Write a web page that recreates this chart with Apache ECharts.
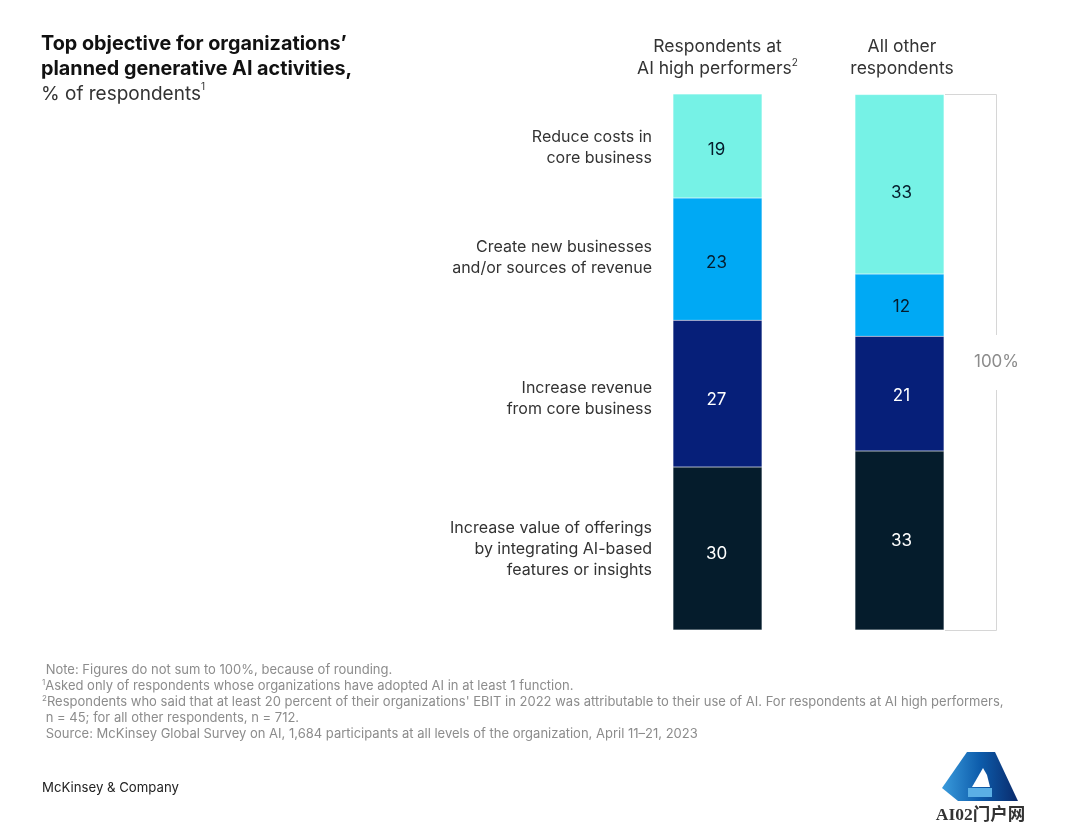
<!DOCTYPE html>
<html>
<head>
<meta charset="utf-8">
<title>Top objective for planned generative AI activities</title>
<script src="https://cdn.jsdelivr.net/npm/echarts@6/dist/echarts.min.js"></script>
<style>
html,body{margin:0;padding:0;background:#fff}
#chart{width:1080px;height:824px}
</style>
</head>
<body>
<div id="chart"></div>
<script>
var FONT='Inter, "Liberation Sans", Arial, sans-serif';

// columns
var groups=['{t|Respondents at}\n{t|AI high performers}{sup|2}','{r|All other}\n{r|respondents}'];
// segments, bottom to top. values are measured off the bar heights, labels round them
var offerings=[30.4,33.4];
var revenue=[27.4,21.4];
var newBiz=[22.8,11.6];
var costs=[19.4,33.49];
var segNames=[
    'Increase value of offerings\nby integrating AI-based\nfeatures or insights',
    'Increase revenue\nfrom core business',
    'Create new businesses\nand/or sources of revenue',
    'Reduce costs in\ncore business'
];
var segColors=['#051C2C','#061F79','#00A9F4','#76F2E6'];
var segText=['#fff','#fff','#051C2C','#051C2C'];
var segLabelY=[549,399,258,148];
// the printed numbers do not sit exactly in the middle of their segments
var labelOffset=[[[-1,5],[2,0]],[[-1,6],[2,2]],[[-1,4],[2,2]],[[-1,4],[2,9]]];

var notes=[
    '{n| Note: Figures do not sum to 100%, because of rounding.}',
    '{s|1}{n|Asked only of respondents whose organizations have adopted AI in at least 1 function.}',
    '{s|2}{n|Respondents who said that at least 20 percent of their organizations\' EBIT in 2022 was attributable to their use of AI. For respondents at AI high performers,}',
    '{n| n = 45; for all other respondents, n = 712.}',
    '{n| Source: McKinsey Global Survey on AI, 1,684 participants at all levels of the organization, April 11–21, 2023}'
];

var chart=echarts.init(document.getElementById('chart'));

function seg(i,data){
    return {
        name:segNames[i],
        type:'bar',
        stack:'total',
        barWidth:89,
        data:data.map(function(v,j){
            return {value:v,label:{offset:labelOffset[i][j]}};
        }),
        itemStyle:{color:segColors[i],borderColor:'rgba(255,255,255,0.3)',borderWidth:0.5},
        label:{
            show:true,
            position:'inside',
            color:segText[i],
            fontFamily:FONT,
            fontSize:17,
            formatter:function(p){return Math.round(p.value)}
        }
    };
}

var graphic=[];
segNames.forEach(function(t,i){
    graphic.push({type:'text',x:652,y:segLabelY[i],style:{
        text:t,align:'right',verticalAlign:'middle',
        font:'16px '+FONT,lineHeight:21,fill:'#333'
    }});
});
notes.forEach(function(t,i){
    graphic.push({type:'text',x:42,y:670.5+i*16,style:{
        text:t,verticalAlign:'middle',
        rich:{
            n:{fontFamily:FONT,fontSize:13,fill:'#8c8c8c',color:'#8c8c8c',lineHeight:16},
            s:{fontFamily:FONT,fontSize:8,fill:'#8c8c8c',color:'#8c8c8c',lineHeight:16,verticalAlign:'top'}
        }
    }});
});
graphic.push({type:'text',x:42,y:788,style:{
    text:'McKinsey & Company',verticalAlign:'middle',font:'13.2px '+FONT,fill:'#222'
}});
// 100% bracket
graphic.push({type:'polyline',shape:{points:[[945,94.5],[996.5,94.5],[996.5,335]]},style:{stroke:'#d6d6d6',lineWidth:1,fill:null}});
graphic.push({type:'polyline',shape:{points:[[996.5,390],[996.5,630.5],[945,630.5]]},style:{stroke:'#d6d6d6',lineWidth:1,fill:null}});
graphic.push({type:'text',x:996.5,y:361.5,style:{
    text:'100%',align:'center',verticalAlign:'middle',font:'17px '+FONT,fill:'#8c8c8c'
}});
// watermark logo
graphic.push({type:'polygon',shape:{points:[[942,788],[967,752],[995,752],[1018,801],[958,801]]},style:{
    fill:new echarts.graphic.LinearGradient(0,0,1,0,[{offset:0,color:'#3A9BDC'},{offset:0.5,color:'#0D5CAB'},{offset:1,color:'#0A2A6B'}])
}});
graphic.push({type:'polygon',shape:{points:[[983,768],[987,775],[990,787],[972,787]]},style:{fill:'#fff'}});
graphic.push({type:'rect',shape:{x:968,y:788,width:24,height:9},style:{fill:'#5AAFE5'}});
graphic.push({type:'text',x:980.5,y:815,style:{
    text:'AI02门户网',align:'center',verticalAlign:'middle',
    font:'bold 17.5px "Liberation Serif","Noto Sans CJK SC",serif',fill:'#333'
}});

chart.setOption({
    animation:false,
    title:{
        text:'Top objective for organizations’\nplanned generative AI activities,',
        subtext:'{t|% of respondents}{sup|1}',
        left:41,
        top:32,
        padding:0,
        itemGap:0,
        textStyle:{fontFamily:FONT,fontSize:19.8,fontWeight:700,color:'#111',lineHeight:25},
        subtextStyle:{
            rich:{
                t:{fontFamily:FONT,fontSize:19,color:'#333',lineHeight:25},
                sup:{fontFamily:FONT,fontSize:10,color:'#333',lineHeight:25,verticalAlign:'top'}
            }
        }
    },
    grid:{left:626.5,top:94,width:364,height:536},
    xAxis:{
        type:'category',
        position:'top',
        data:groups,
        axisLine:{show:false},
        axisTick:{show:false},
        axisLabel:{
            interval:0,
            margin:14,
            rich:{
                t:{fontFamily:FONT,fontSize:17.5,color:'#333',lineHeight:22},
                r:{fontFamily:FONT,fontSize:17.5,color:'#333',lineHeight:22,padding:[0,0,0,5]},
                sup:{fontFamily:FONT,fontSize:10,color:'#333',lineHeight:22,verticalAlign:'top'}
            }
        }
    },
    yAxis:{type:'value',min:0,max:100,show:false},
    series:[seg(0,offerings),seg(1,revenue),seg(2,newBiz),seg(3,costs)],
    graphic:graphic
});
</script>
</body>
</html>
